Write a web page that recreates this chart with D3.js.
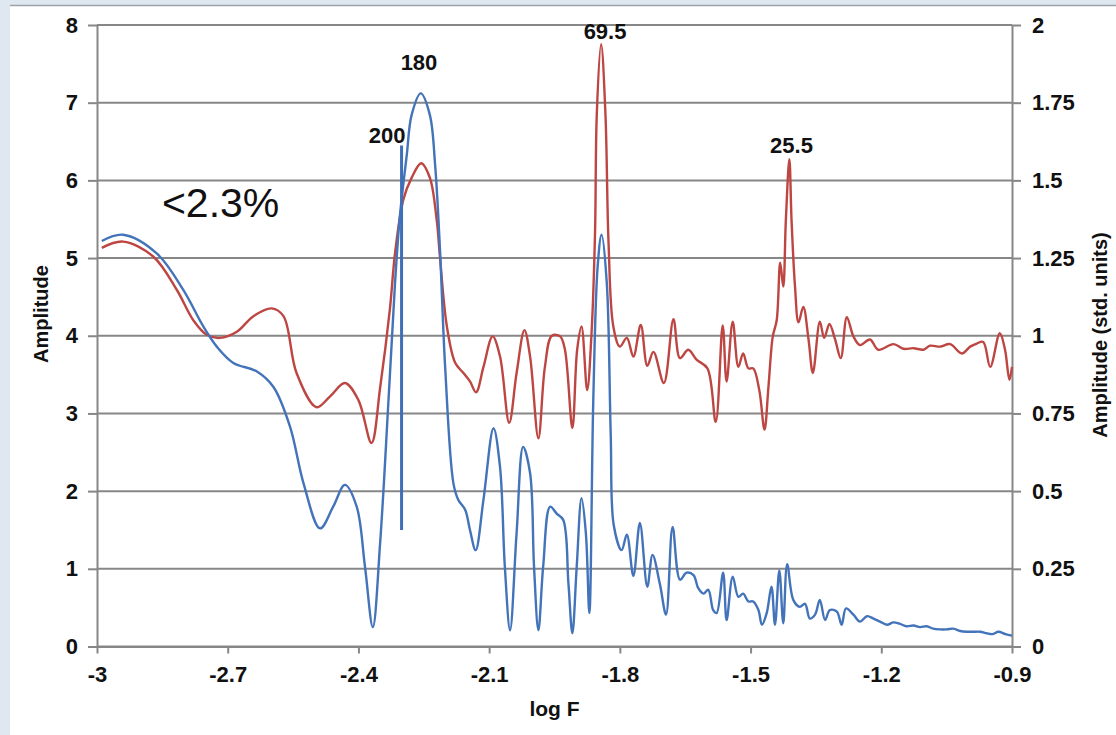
<!DOCTYPE html>
<html>
<head>
<meta charset="utf-8">
<script src="https://cdn.jsdelivr.net/npm/d3@7"></script>
<style>
  html, body { margin: 0; padding: 0; background: #dfe7f1; }
  .chart { width: 1116px; height: 735px; }
  .tick text { font-family: "Liberation Sans", Arial, sans-serif; font-weight: bold; font-size: 22px; fill: #111; }
</style>
</head>
<body>
<div class="chart"></div>
<script>
const WIDTH = 1116;
const HEIGHT = 735;
const MARGIN = { top: 25, right: 104, bottom: 88.5, left: 97 };

// x ticks (log F)
const xTicks = [-3, -2.7, -2.4, -2.1, -1.8, -1.5, -1.2, -0.9];
const xTickLabels = ['-3', '-2.7', '-2.4', '-2.1', '-1.8', '-1.5', '-1.2', '-0.9'];
const leftTicks = [0, 1, 2, 3, 4, 5, 6, 7, 8];
const rightTicks = [0, 0.25, 0.5, 0.75, 1, 1.25, 1.5, 1.75, 2];
const rightTickLabels = ['0', '0.25', '0.5', '0.75', '1', '1.25', '1.5', '1.75', '2'];

// blue series, left axis (Amplitude)
const blueLogF = [
	-2.989, -2.940, -2.863, -2.802, -2.756, -2.725, -2.687, -2.633, -2.595, -2.557,
	-2.526, -2.488, -2.458, -2.431, -2.404, -2.385, -2.367, -2.350, -2.331, -2.316,
	-2.305, -2.289, -2.278, -2.257, -2.236, -2.224, -2.213, -2.201, -2.182, -2.171,
	-2.155, -2.144, -2.131, -2.113, -2.090, -2.075, -2.064, -2.052, -2.037, -2.022,
	-2.006, -1.997, -1.987, -1.976, -1.960, -1.945, -1.930, -1.918, -1.909, -1.899,
	-1.888, -1.878, -1.870, -1.861, -1.851, -1.842, -1.830, -1.821, -1.814, -1.796,
	-1.784, -1.769, -1.754, -1.737, -1.725, -1.708, -1.694, -1.679, -1.662, -1.647,
	-1.631, -1.620, -1.608, -1.597, -1.586, -1.578, -1.563, -1.555, -1.541, -1.528,
	-1.517, -1.505, -1.494, -1.482, -1.474, -1.463, -1.452, -1.444, -1.434, -1.425,
	-1.416, -1.402, -1.387, -1.375, -1.364, -1.352, -1.341, -1.329, -1.318, -1.302,
	-1.291, -1.281, -1.264, -1.249, -1.233, -1.218, -1.203, -1.187, -1.172, -1.157,
	-1.142, -1.126, -1.111, -1.096, -1.081, -1.066, -1.050, -1.035, -1.019, -1.004,
	-0.989, -0.973, -0.958, -0.945, -0.931, -0.915, -0.900
];
const blueAmp = [
	5.22, 5.30, 5.06, 4.59, 4.12, 3.86, 3.65, 3.54, 3.34, 2.83,
	2.10, 1.52, 1.80, 2.08, 1.80, 1.03, 0.25, 1.35, 3.17, 4.68,
	5.53, 6.33, 6.84, 7.12, 6.84, 6.20, 5.13, 3.60, 2.10, 1.89,
	1.76, 1.50, 1.24, 1.89, 2.81, 2.31, 1.03, 0.21, 1.46, 2.57,
	2.23, 1.03, 0.21, 1.03, 1.80, 1.71, 1.63, 0.81, 0.17, 1.03,
	1.91, 1.46, 0.43, 3.17, 4.89, 5.30, 4.68, 2.74, 1.56, 1.24,
	1.44, 0.91, 1.59, 0.77, 1.18, 0.80, 0.41, 1.54, 0.86, 0.95,
	0.92, 0.75, 0.68, 0.73, 0.47, 0.43, 0.95, 0.34, 0.90, 0.64,
	0.68, 0.58, 0.58, 0.47, 0.28, 0.43, 0.77, 0.28, 0.98, 0.30,
	1.06, 0.60, 0.51, 0.55, 0.36, 0.41, 0.60, 0.34, 0.47, 0.45,
	0.28, 0.49, 0.41, 0.32, 0.39, 0.36, 0.32, 0.28, 0.31, 0.29,
	0.26, 0.27, 0.25, 0.26, 0.23, 0.22, 0.22, 0.23, 0.20, 0.19,
	0.19, 0.19, 0.17, 0.16, 0.19, 0.16, 0.14
];

// red series, right axis (std. units)
const redLogF = [
	-2.989, -2.940, -2.871, -2.817, -2.779, -2.748, -2.718, -2.679, -2.641, -2.599,
	-2.572, -2.542, -2.496, -2.465, -2.431, -2.400, -2.370, -2.350, -2.328, -2.316,
	-2.297, -2.278, -2.256, -2.236, -2.220, -2.213, -2.197, -2.178, -2.159, -2.144,
	-2.130, -2.113, -2.092, -2.075, -2.054, -2.037, -2.019, -2.006, -1.987, -1.972,
	-1.956, -1.937, -1.926, -1.909, -1.898, -1.888, -1.875, -1.865, -1.857, -1.853,
	-1.843, -1.833, -1.826, -1.815, -1.800, -1.784, -1.769, -1.752, -1.737, -1.723,
	-1.699, -1.677, -1.662, -1.643, -1.624, -1.599, -1.580, -1.564, -1.555, -1.541,
	-1.528, -1.517, -1.505, -1.494, -1.480, -1.468, -1.459, -1.449, -1.440, -1.432,
	-1.425, -1.419, -1.411, -1.406, -1.398, -1.390, -1.379, -1.367, -1.357, -1.341,
	-1.331, -1.319, -1.306, -1.293, -1.279, -1.264, -1.249, -1.226, -1.207, -1.172,
	-1.149, -1.126, -1.103, -1.088, -1.065, -1.042, -1.015, -0.996, -0.981, -0.966,
	-0.950, -0.928, -0.916, -0.906, -0.900
];
const redStd = [
	1.283, 1.303, 1.255, 1.148, 1.050, 1.003, 0.993, 1.013, 1.063, 1.088,
	1.063, 0.880, 0.770, 0.805, 0.848, 0.793, 0.655, 0.835, 1.083, 1.265,
	1.438, 1.508, 1.555, 1.508, 1.368, 1.255, 1.030, 0.913, 0.880, 0.853,
	0.818, 0.900, 0.998, 0.933, 0.720, 0.880, 1.018, 0.933, 0.670, 0.900,
	1.000, 0.998, 0.955, 0.703, 0.955, 1.030, 0.825, 1.008, 1.330, 1.710,
	1.938, 1.710, 1.300, 1.030, 0.965, 0.993, 0.933, 1.035, 0.903, 0.948,
	0.848, 1.053, 0.928, 0.955, 0.923, 0.895, 0.723, 1.033, 0.853, 1.045,
	0.900, 0.943, 0.895, 0.895, 0.825, 0.698, 0.835, 0.998, 1.050, 1.235,
	1.158, 1.373, 1.568, 1.373, 1.158, 1.043, 1.093, 0.988, 0.880, 1.045,
	0.993, 1.038, 0.988, 0.928, 1.060, 0.998, 0.970, 0.988, 0.955, 0.973,
	0.958, 0.960, 0.955, 0.968, 0.965, 0.973, 0.943, 0.965, 0.975, 0.980,
	0.900, 1.008, 0.955, 0.858, 0.900
];

// vertical marker at period 200 (left axis units)
const markerLogF = -2.301;
const markerRange = [1.5, 6.45];

// annotations: text, log F, left-axis amplitude of the baseline
const noteTexts = ['180', '200', '69.5', '25.5'];
const noteLogF = [-2.261, -2.334, -1.834, -1.406];
const noteAmp = [7.42, 6.48, 7.82, 6.35];
const bigNote = '<2.3%';
const bigNoteLogF = -2.851;
const bigNoteAmp = 5.53;

const svg = d3
	.select('.chart')
	.append('svg')
	.attr('width', WIDTH)
	.attr('height', HEIGHT)
	.style('display', 'block');

// page frame
svg.append('rect').attr('x', 0).attr('y', 0).attr('width', WIDTH).attr('height', HEIGHT).attr('fill', '#dfe7f1');
svg.append('rect').attr('x', 10).attr('y', 6).attr('width', WIDTH - 10).attr('height', HEIGHT - 6).attr('fill', '#fff');
svg.append('line').attr('x1', 10).attr('x2', WIDTH).attr('y1', 5.5).attr('y2', 5.5)
	.attr('stroke', '#9aa3ad').attr('stroke-width', 1.5);

const x = d3.scaleLinear().domain([-3, -0.9]).range([MARGIN.left, WIDTH - MARGIN.right]);
const yLeft = d3.scaleLinear().domain([0, 8]).range([HEIGHT - MARGIN.bottom, MARGIN.top]);
const yRight = d3.scaleLinear().domain([0, 2]).range([HEIGHT - MARGIN.bottom, MARGIN.top]);

const GRID = '#878787';

// gridlines
svg.append('g')
	.selectAll('line')
	.data(leftTicks)
	.enter()
	.append('line')
	.attr('x1', x(-3))
	.attr('x2', x(-0.9))
	.attr('y1', d => yLeft(d))
	.attr('y2', d => yLeft(d))
	.attr('stroke', GRID)
	.attr('stroke-width', 2);

// axes
function styleAxis(g) {
	g.selectAll('.domain').attr('stroke', GRID).attr('stroke-width', 2);
	g.selectAll('.tick line').attr('stroke', GRID).attr('stroke-width', 2);
}

svg.append('g')
	.attr('transform', `translate(${MARGIN.left}, 0)`)
	.call(d3.axisLeft(yLeft).tickValues(leftTicks).tickFormat(d3.format('d')).tickSize(9).tickSizeOuter(0).tickPadding(10))
	.call(styleAxis);

svg.append('g')
	.attr('transform', `translate(${WIDTH - MARGIN.right}, 0)`)
	.call(d3.axisRight(yRight).tickValues(rightTicks).tickFormat((d, i) => rightTickLabels[i]).tickSize(9).tickSizeOuter(0).tickPadding(11))
	.call(styleAxis);

svg.append('g')
	.attr('transform', `translate(0, ${HEIGHT - MARGIN.bottom})`)
	.call(d3.axisBottom(x).tickValues(xTicks).tickFormat((d, i) => xTickLabels[i]).tickSize(7).tickSizeOuter(0).tickPadding(13))
	.call(styleAxis);

// axis titles
const titleFont = '"Liberation Sans", Arial, sans-serif';
svg.append('text')
	.attr('transform', 'translate(48, 314) rotate(-90)')
	.attr('text-anchor', 'middle')
	.style('font-family', titleFont).style('font-weight', 'bold').style('font-size', '20px').attr('fill', '#111')
	.text('Amplitude');

svg.append('text')
	.attr('transform', 'translate(1107, 335) rotate(-90)')
	.attr('text-anchor', 'middle')
	.style('font-family', titleFont).style('font-weight', 'bold').style('font-size', '20px').attr('fill', '#111')
	.text('Amplitude (std. units)');

svg.append('text')
	.attr('x', (x(-3) + x(-0.9)) / 2)
	.attr('y', 716)
	.attr('text-anchor', 'middle')
	.style('font-family', titleFont).style('font-weight', 'bold').style('font-size', '21px').attr('fill', '#111')
	.text('log F');

// series
const curve = d3.curveCatmullRom.alpha(0.5);

const redLine = d3.line()
	.x(d => x(d[0]))
	.y(d => yRight(d[1]))
	.curve(curve);

const blueLine = d3.line()
	.x(d => x(d[0]))
	.y(d => yLeft(d[1]))
	.curve(curve);

svg.append('path')
	.datum(redLogF.map((f, i) => [f, redStd[i]]))
	.attr('d', redLine)
	.attr('fill', 'none')
	.attr('stroke', '#bd4643')
	.attr('stroke-width', 2.4)
	.attr('stroke-linejoin', 'round');

svg.append('path')
	.datum(blueLogF.map((f, i) => [f, blueAmp[i]]))
	.attr('d', blueLine)
	.attr('fill', 'none')
	.attr('stroke', '#4373b9')
	.attr('stroke-width', 2.4)
	.attr('stroke-linejoin', 'round');

svg.append('line')
	.attr('x1', x(markerLogF))
	.attr('x2', x(markerLogF))
	.attr('y1', yLeft(markerRange[0]))
	.attr('y2', yLeft(markerRange[1]))
	.attr('stroke', '#3f6fb6')
	.attr('stroke-width', 3);

// annotations
svg.append('g')
	.selectAll('text')
	.data(noteTexts)
	.enter()
	.append('text')
	.attr('x', (d, i) => x(noteLogF[i]))
	.attr('y', (d, i) => yLeft(noteAmp[i]))
	.attr('text-anchor', 'middle')
	.style('font-family', titleFont).style('font-weight', 'bold').style('font-size', '22px').attr('fill', '#111')
	.text(d => d);

svg.append('text')
	.attr('x', x(bigNoteLogF))
	.attr('y', yLeft(bigNoteAmp))
	.style('font-family', titleFont).style('font-size', '41px').attr('fill', '#111')
	.text(bigNote);
</script>
</body>
</html>
